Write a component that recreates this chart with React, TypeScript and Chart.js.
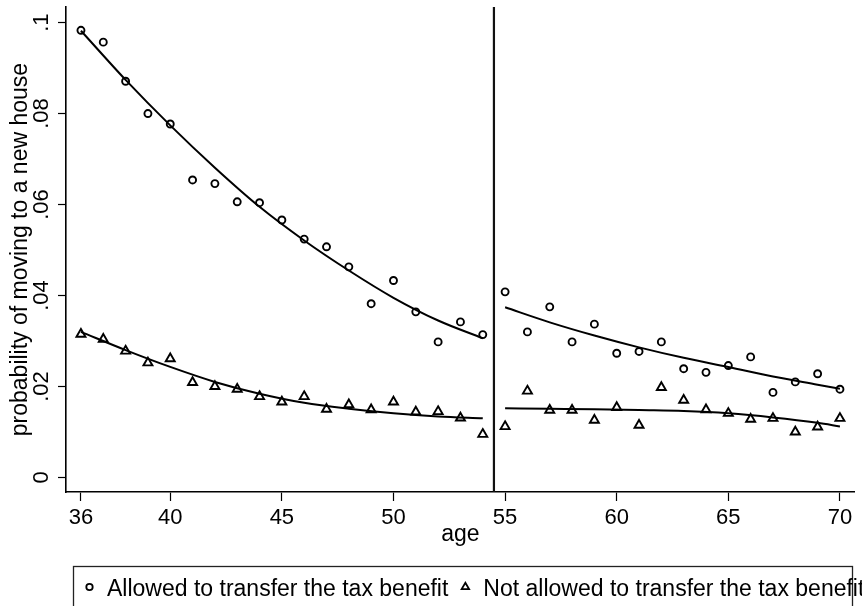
import React, { useEffect, useRef } from 'react';
import { Chart, registerables } from 'chart.js';

Chart.register(...registerables);

// ---------- data ----------
const leftAges = [36, 37, 38, 39, 40, 41, 42, 43, 44, 45, 46, 47, 48, 49, 50, 51, 52, 53, 54];
const leftAllowed = [0.0983, 0.0957, 0.0871, 0.0800, 0.0777, 0.0654, 0.0646, 0.0606, 0.0604, 0.0566, 0.0524, 0.0507, 0.0463, 0.0382, 0.0433, 0.0364, 0.0298, 0.0342, 0.0314];
const leftNotAllowed = [0.0315, 0.0304, 0.0278, 0.0252, 0.0261, 0.0209, 0.0200, 0.0194, 0.0178, 0.0166, 0.0178, 0.0150, 0.0160, 0.0149, 0.0166, 0.0144, 0.0145, 0.0131, 0.0095];

const rightAges = [55, 56, 57, 58, 59, 60, 61, 62, 63, 64, 65, 66, 67, 68, 69, 70];
const rightAllowed = [0.0408, 0.0320, 0.0375, 0.0298, 0.0337, 0.0273, 0.0277, 0.0298, 0.0239, 0.0231, 0.0246, 0.0265, 0.0187, 0.0210, 0.0228, 0.0194];
const rightNotAllowed = [0.0112, 0.0190, 0.0148, 0.0148, 0.0126, 0.0154, 0.0115, 0.0198, 0.0170, 0.0149, 0.0141, 0.0128, 0.0130, 0.0100, 0.0111, 0.0130];

const fitLeftAges = [36, 38, 40, 42, 44, 46, 48, 50, 52, 54];
const fitLeftAllowed = [0.0982, 0.0874, 0.0774, 0.0681, 0.0595, 0.0521, 0.0455, 0.0395, 0.0345, 0.0306];
const fitLeftNotAllowed = [0.0320, 0.0280, 0.0243, 0.0210, 0.0184, 0.0164, 0.0151, 0.0141, 0.0134, 0.0130];

const fitRightAges = [55, 57, 59, 61, 63, 65, 67, 69, 70];
const fitRightAllowed = [0.0374, 0.0341, 0.0312, 0.0286, 0.0263, 0.0243, 0.0222, 0.0204, 0.0195];
const fitRightNotAllowed = [0.0152, 0.0151, 0.0150, 0.0148, 0.0146, 0.0141, 0.0132, 0.0120, 0.0112];

const cutoffAge = 54.5;

const xTickValues = [36, 40, 45, 50, 55, 60, 65, 70];
const yTickValues = [0, 0.02, 0.04, 0.06, 0.08, 0.1];
const yTickLabels = ['0', '.02', '.04', '.06', '.08', '.1'];

const xTitle = 'age';
const yTitle = 'probability of moving to a new house';
const legendLabels = ['Allowed to transfer the tax benefit', 'Not allowed to transfer the tax benefit'];

// ---------- layout / style ----------
const W = 862;
const H = 606;
const X_MIN = 35.33;
const X_MAX = 70.67;
const Y_MIN = -0.0032;
const Y_MAX = 0.1034;
const FONT = '"Liberation Sans", Arial, Helvetica, sans-serif';

const pts = (xs: number[], ys: number[]) => xs.map((x, i) => ({ x, y: ys[i] }));

const legendPlugin = {
  id: 'stataLegend',
  afterDraw(chart: any) {
    const ctx: CanvasRenderingContext2D = chart.ctx;
    ctx.save();
    ctx.strokeStyle = '#222';
    ctx.lineWidth = 1.3;
    ctx.strokeRect(73.5, 566.5, 779, 60);
    ctx.font = `23px ${FONT}`;
    ctx.fillStyle = '#000';
    ctx.textBaseline = 'alphabetic';
    ctx.textAlign = 'left';
    // marker 1: hollow circle
    ctx.lineWidth = 1.8;
    ctx.strokeStyle = '#000';
    ctx.beginPath();
    ctx.arc(89.5, 587, 3.2, 0, Math.PI * 2);
    ctx.stroke();
    const t1x = 107;
    ctx.fillText(legendLabels[0], t1x, 596);
    const w1 = ctx.measureText(legendLabels[0]).width;
    // marker 2: hollow triangle
    const tx = t1x + w1 + 17;
    const ty = 587;
    const r = 4.3;
    ctx.beginPath();
    ctx.moveTo(tx, ty - r);
    ctx.lineTo(tx + r * 0.866, ty + r * 0.5);
    ctx.lineTo(tx - r * 0.866, ty + r * 0.5);
    ctx.closePath();
    ctx.stroke();
    ctx.fillText(legendLabels[1], tx + 18, 596);
    ctx.restore();
  },
};

export default function App() {
  const canvasRef = useRef<HTMLCanvasElement | null>(null);

  useEffect(() => {
    document.body.style.margin = '0';
    document.body.style.overflow = 'hidden';
    const canvas = canvasRef.current;
    if (!canvas) return;

    const circleStyle = {
      pointStyle: 'circle',
      pointRadius: 3.5,
      pointBorderWidth: 1.9,
      pointBorderColor: '#000',
      pointBackgroundColor: 'rgba(0,0,0,0)',
      showLine: false,
    };
    const triStyle = {
      pointStyle: 'triangle',
      pointRadius: 5.2,
      pointBorderWidth: 1.9,
      pointBorderColor: '#000',
      pointBackgroundColor: 'rgba(0,0,0,0)',
      showLine: false,
    };
    const fitStyle = {
      type: 'line',
      borderColor: '#000',
      borderWidth: 2,
      pointRadius: 0,
      fill: false,
      cubicInterpolationMode: 'monotone',
    };

    const chart = new Chart(canvas, {
      type: 'scatter',
      data: {
        datasets: [
          { label: legendLabels[0], data: pts(leftAges, leftAllowed), ...circleStyle } as any,
          { label: legendLabels[0], data: pts(rightAges, rightAllowed), ...circleStyle } as any,
          { label: legendLabels[1], data: pts(leftAges, leftNotAllowed), ...triStyle } as any,
          { label: legendLabels[1], data: pts(rightAges, rightNotAllowed), ...triStyle } as any,
          { label: 'fit1', data: pts(fitLeftAges, fitLeftAllowed), ...fitStyle } as any,
          { label: 'fit2', data: pts(fitLeftAges, fitLeftNotAllowed), ...fitStyle } as any,
          { label: 'fit3', data: pts(fitRightAges, fitRightAllowed), ...fitStyle } as any,
          { label: 'fit4', data: pts(fitRightAges, fitRightNotAllowed), ...fitStyle } as any,
          {
            label: 'cutoff',
            type: 'line',
            data: [
              { x: cutoffAge, y: Y_MIN },
              { x: cutoffAge, y: Y_MAX },
            ],
            borderColor: '#111',
            borderWidth: 2.2,
            pointRadius: 0,
            fill: false,
          } as any,
        ],
      },
      options: {
        animation: false,
        responsive: false,
        maintainAspectRatio: false,
        devicePixelRatio: 1,
        layout: { padding: { left: 0, right: 3, top: 7, bottom: 0 } },
        plugins: {
          legend: { display: false },
          tooltip: { enabled: false },
          title: { display: false },
        },
        scales: {
          x: {
            type: 'linear',
            min: X_MIN,
            max: X_MAX,
            afterBuildTicks: (scale: any) => {
              scale.ticks = xTickValues.map((v) => ({ value: v }));
            },
            afterFit: (scale: any) => {
              scale.height = 114;
              scale.paddingLeft = 0;
              scale.paddingRight = 0;
            },
            grid: {
              display: true,
              drawOnChartArea: false,
              drawTicks: true,
              tickLength: 9,
              tickColor: '#000',
              tickWidth: 1.2,
              color: '#000',
            },
            border: { display: true, color: '#000', width: 1.6 },
            ticks: {
              color: '#000',
              font: { family: FONT, size: 22 },
              padding: 4,
              maxRotation: 0,
              minRotation: 0,
              autoSkip: false,
              callback: (v: any) => String(v),
            },
            title: {
              display: true,
              text: xTitle,
              color: '#000',
              font: { family: FONT, size: 23 },
              padding: { top: 0, bottom: 58 },
            },
          },
          y: {
            type: 'linear',
            min: Y_MIN,
            max: Y_MAX,
            afterBuildTicks: (scale: any) => {
              scale.ticks = yTickValues.map((v) => ({ value: v }));
            },
            afterFit: (scale: any) => {
              scale.width = 66;
              scale.paddingTop = 0;
              scale.paddingBottom = 0;
            },
            grid: {
              display: true,
              drawOnChartArea: false,
              drawTicks: true,
              tickLength: 8,
              tickColor: '#000',
              tickWidth: 1.2,
              color: '#000',
            },
            border: { display: true, color: '#000', width: 1.6 },
            ticks: {
              color: '#000',
              font: { family: FONT, size: 22 },
              padding: 1,
              minRotation: 90,
              maxRotation: 90,
              crossAlign: 'center',
              autoSkip: false,
              callback: (v: any) => {
                const idx = yTickValues.findIndex((t) => Math.abs(t - Number(v)) < 1e-9);
                return idx >= 0 ? yTickLabels[idx] : '';
              },
            },
            title: {
              display: true,
              text: yTitle,
              color: '#000',
              font: { family: FONT, size: 23 },
              padding: { top: 7, bottom: 0 },
            },
          },
        },
      } as any,
      plugins: [legendPlugin],
    });

    return () => {
      chart.destroy();
    };
  }, []);

  return (
    <div style={{ width: W, height: H, background: '#fff' }}>
      <canvas ref={canvasRef} width={W} height={H} style={{ display: 'block', width: W, height: H }} />
    </div>
  );
}
